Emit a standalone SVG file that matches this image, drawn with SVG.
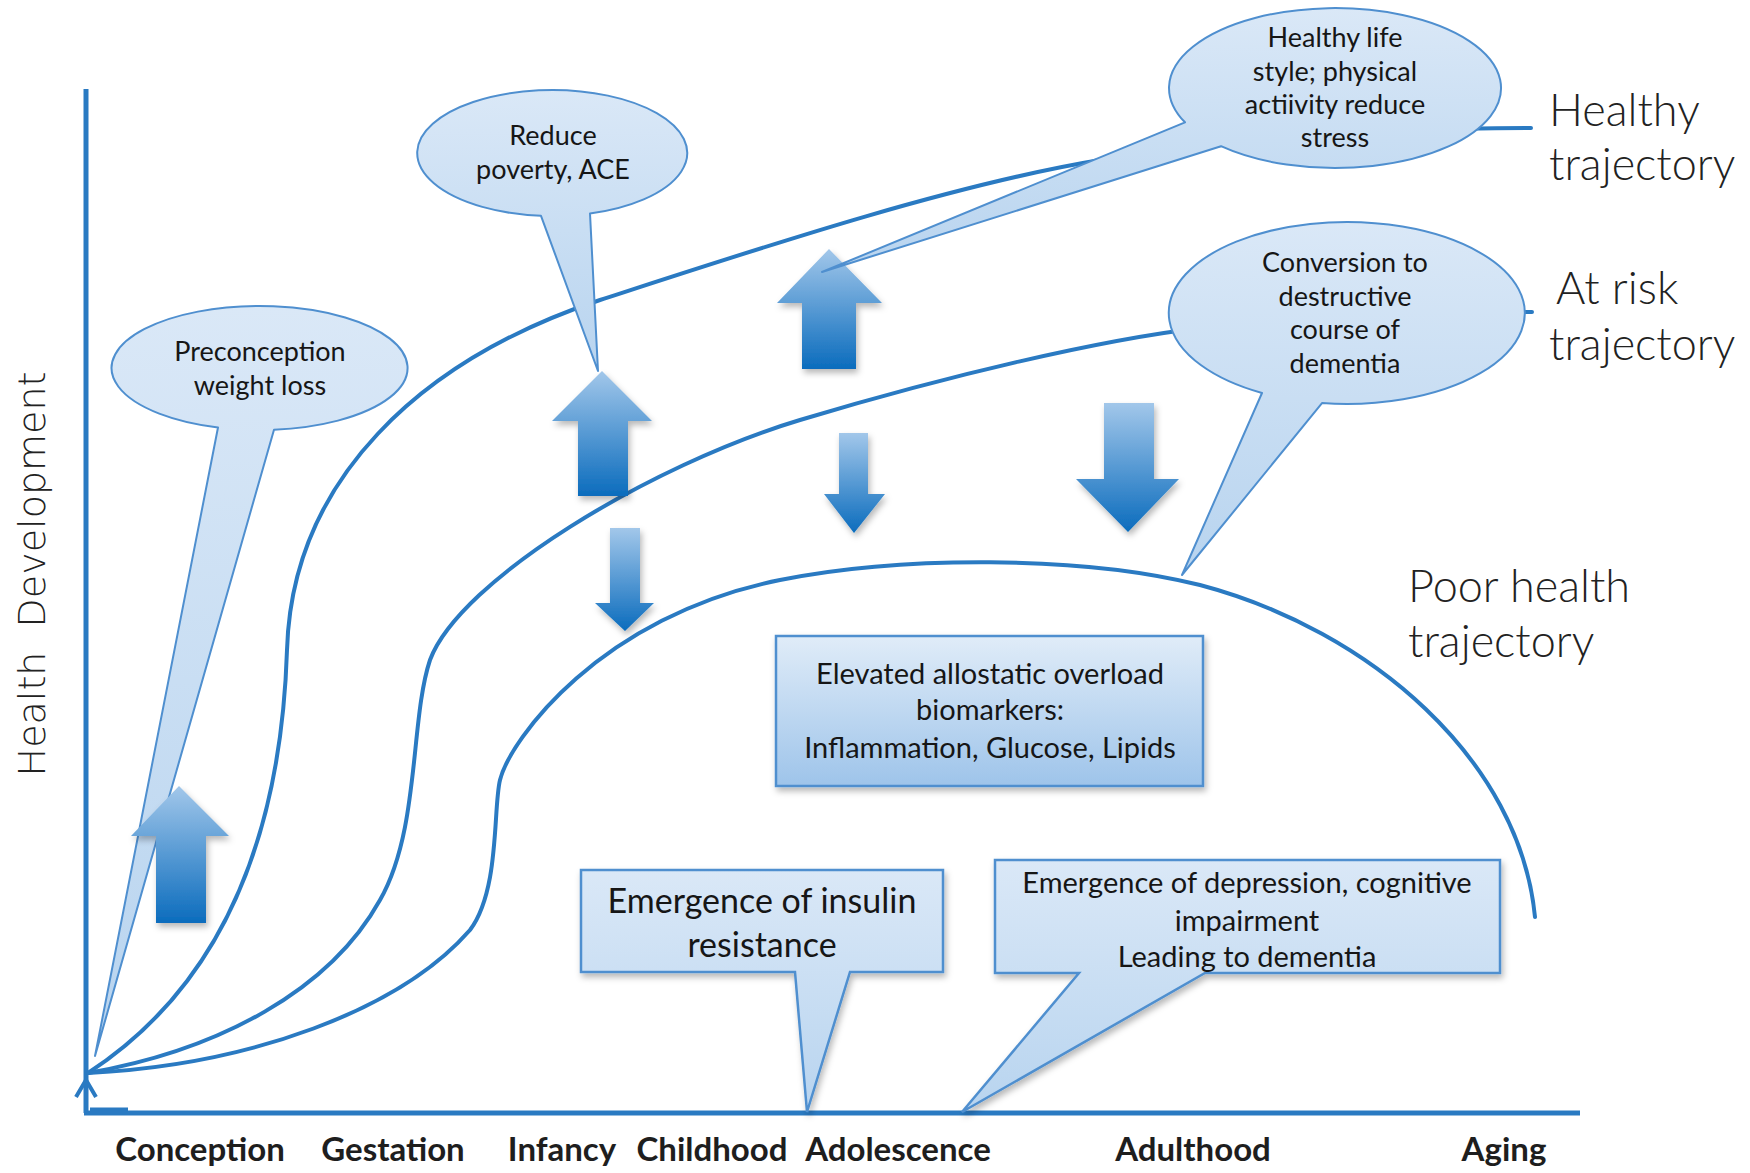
<svg xmlns="http://www.w3.org/2000/svg" width="1750" height="1173" viewBox="0 0 1750 1173">
<defs>
<linearGradient id="gCall" x1="0" y1="0" x2="0" y2="1">
<stop offset="0" stop-color="#DAE8F7"/><stop offset="1" stop-color="#B8D4EF"/>
</linearGradient>
<linearGradient id="gBox" x1="0" y1="0" x2="0" y2="1">
<stop offset="0" stop-color="#E0ECF8"/><stop offset="1" stop-color="#9EC4EA"/>
</linearGradient>
<linearGradient id="gArrow" x1="0" y1="0" x2="0" y2="1">
<stop offset="0" stop-color="#A2C7EA"/><stop offset="1" stop-color="#0B6CBD"/>
</linearGradient>
<filter id="shadow" x="-10%" y="-10%" width="130%" height="140%">
<feDropShadow dx="2" dy="4" stdDeviation="3" flood-color="#000" flood-opacity="0.28"/>
</filter>
<style>
.curve{fill:none;stroke:#2A7AC2;stroke-width:4;stroke-linecap:round}
.axis{fill:none;stroke:#2A7AC2;stroke-width:5}
.call{fill:url(#gCall);stroke:#4F8FCF;stroke-width:2;stroke-linejoin:round}
.box{fill:url(#gBox);stroke:#4F8FCF;stroke-width:2.5;filter:url(#shadow)}
.arrow{fill:url(#gArrow);stroke:none;filter:url(#shadow)}
.ct{font-family:Lato,"Liberation Sans",sans-serif;font-size:27px;fill:#161616;text-anchor:middle}
.bt{font-size:29px}
.it{font-size:34px}
.lab{font-family:Lato,"Liberation Sans",sans-serif;font-size:45px;font-weight:300;fill:#222}
.xl{font-family:Lato,"Liberation Sans",sans-serif;font-size:33px;font-weight:bold;fill:#1E1E1E;text-anchor:middle}
</style>
</defs>
<rect width="1750" height="1173" fill="#FFFFFF"/>

<g id="axes">
<line class="axis" x1="86" y1="89" x2="86" y2="1113"/>
<line class="axis" x1="84" y1="1113" x2="1580" y2="1113"/>
<polyline points="76,1097 86,1080 96,1097" fill="none" stroke="#2A7AC2" stroke-width="4"/>
<line x1="90" y1="1110" x2="128" y2="1110" stroke="#2A7AC2" stroke-width="5"/>
<text transform="translate(45,574) rotate(-90)" font-family="'DejaVu Sans',sans-serif" font-weight="200" font-size="38" fill="#222" text-anchor="middle" xml:space="preserve">Health  Development</text>
</g>

<g id="connectors">
<path id="healthy-curve" class="curve" d="M 88 1073 C 200 1000, 280 870, 287 650 C 292 480, 420 360, 600 300 C 760 248, 950 185, 1100 160 C 1300 132, 1450 128, 1531 128"/>
<path id="atrisk-curve" class="curve" d="M 88 1073 C 220 1050, 330 990, 380 900 C 420 830, 410 720, 430 660 C 460 580, 650 465, 800 420 C 950 375, 1100 340, 1200 328 C 1350 318, 1450 312, 1532 312"/>
<path id="poor-curve" class="curve" d="M 88 1073 C 250 1065, 400 1010, 470 930 C 500 890, 493 808, 500 780 C 510 740, 600 616, 780 580 C 900 556, 1080 555, 1200 585 C 1370 630, 1520 760, 1535 917"/>
</g>

<g id="arrows">
<polygon id="arrow-up-infancy" class="arrow" points="602,371 652,421 628,421 628,496 578,496 578,421 552,421"/>
<polygon id="arrow-up-healthy" class="arrow" points="829,249 882,303 856,303 856,369 802,369 802,303 777,303"/>
<polygon id="arrow-down-infancy" class="arrow" points="610,528 640,528 640,603 654,603 625,631 595,603 610,603"/>
<polygon id="arrow-down-adolescence" class="arrow" points="839,433 868,433 868,494 885,494 854,533 824,494 839,494"/>
<polygon id="arrow-down-adulthood" class="arrow" points="1104,403 1154,403 1154,479 1179,479 1128,532 1076,479 1104,479"/>
</g>

<g id="callout-preconception">
<path class="call" d="M 274 429.7 L 95 1056 L 218 427.5 A 148 62 0 1 1 274 429.7 Z"/>
<text class="ct" x="260" y="361">Preconception</text>
<text class="ct" x="260" y="395">weight loss</text>
</g>

<g id="arrow-conception">
<polygon id="arrow-up-conception" class="arrow" points="179,786 229,836 206,836 206,923 156,923 156,836 131,836"/>
</g>

<g id="callout-poverty">
<path class="call" d="M 590 213.5 L 598 371 L 541 215.8 A 135 63 0 1 1 590 213.5 Z"/>
<text class="ct" x="553" y="145">Reduce</text>
<text class="ct" x="553" y="179">poverty, ACE</text>
</g>

<g id="callout-lifestyle">
<path class="call" d="M 1221 146.2 L 822 272 L 1185 122.3 A 166 80 0 1 1 1221 146.2 Z"/>
<text class="ct" x="1335" y="47">Healthy life</text>
<text class="ct" x="1335" y="81">style; physical</text>
<text class="ct" x="1335" y="114">actiivity reduce</text>
<text class="ct" x="1335" y="147">stress</text>
</g>

<g id="callout-conversion">
<path class="call" d="M 1322 403.1 L 1182 575 L 1262 393 A 178 91 0 1 1 1322 403.1 Z"/>
<text class="ct" x="1345" y="272">Conversion to</text>
<text class="ct" x="1345" y="306">destructive</text>
<text class="ct" x="1345" y="339">course of</text>
<text class="ct" x="1345" y="373">dementia</text>
</g>

<g id="box-biomarkers">
<rect class="box" x="776" y="636" width="427" height="150"/>
<text class="ct bt" x="990" y="684">Elevated allostatic overload</text>
<text class="ct bt" x="990" y="720">biomarkers:</text>
<text class="ct bt" x="990" y="758">Inflammation, Glucose, Lipids</text>
</g>

<g id="callout-insulin">
<path class="box" d="M 581 870 H 943 V 972 H 850 L 807 1112 L 795 972 H 581 Z" style="fill:url(#gCall)"/>
<text class="ct it" x="762" y="913">Emergence of insulin</text>
<text class="ct it" x="762" y="957">resistance</text>
</g>

<g id="callout-depression">
<path class="box" d="M 995 860 H 1500 V 973 H 1205 L 962 1112 L 1079 973 H 995 Z" style="fill:url(#gCall)"/>
<text class="ct bt" x="1247" y="893">Emergence of depression, cognitive</text>
<text class="ct bt" x="1247" y="931">impairment</text>
<text class="ct bt" x="1247" y="967">Leading to dementia</text>
</g>

<g id="label-healthy">
<text class="lab" x="1549" y="126">Healthy</text>
<text class="lab" x="1549" y="180">trajectory</text>
</g>
<g id="label-atrisk">
<text class="lab" x="1556" y="304">At risk</text>
<text class="lab" x="1549" y="360">trajectory</text>
</g>
<g id="label-poor">
<text class="lab" x="1408" y="602">Poor health</text>
<text class="lab" x="1408" y="657">trajectory</text>
</g>

<g id="x-labels">
<text class="xl" x="200" y="1161">Conception</text>
<text class="xl" x="393" y="1161">Gestation</text>
<text class="xl" x="562" y="1161">Infancy</text>
<text class="xl" x="712" y="1161">Childhood</text>
<text class="xl" x="898" y="1161">Adolescence</text>
<text class="xl" x="1193" y="1161">Adulthood</text>
<text class="xl" x="1504" y="1161">Aging</text>
</g>
</svg>
